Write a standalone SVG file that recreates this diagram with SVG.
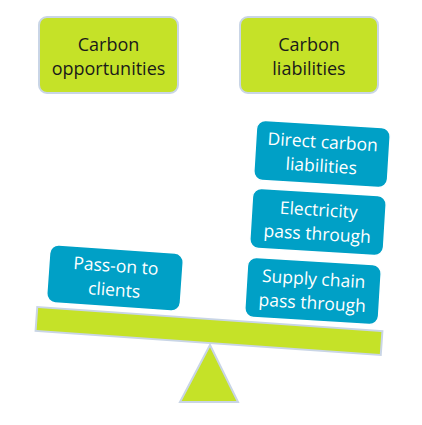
<svg xmlns="http://www.w3.org/2000/svg" width="422" height="425" viewBox="0 0 422 425">
<style>
.g{fill:#c5e228;stroke:#c9d5e6;stroke-width:2}
.b{fill:#00a0c6;stroke:#ffffff;stroke-width:1.5}
.tg{font-family:"Open Sans","Liberation Sans",sans-serif;font-size:18px;fill:#1a1a1a;text-anchor:middle}
.tb{font-family:"Open Sans","Liberation Sans",sans-serif;font-size:17.5px;fill:#ffffff;text-anchor:middle}
</style>
<rect width="422" height="425" fill="#ffffff"/>
<g id="carbon-opportunities">
<rect class="g" x="39" y="17" width="139" height="76" rx="8"/>
<text class="tg" x="108.5" y="51">Carbon</text>
<text class="tg" x="108.5" y="75">opportunities</text>
</g>
<g id="carbon-liabilities">
<rect class="g" x="240" y="17" width="138" height="76" rx="8"/>
<text class="tg" x="309" y="51">Carbon</text>
<text class="tg" x="309" y="75">liabilities</text>
</g>
<g id="beam">
<rect class="g" x="-173" y="-12" width="346" height="24" transform="translate(209,331) rotate(4)"/>
</g>
<g id="fulcrum">
<polygon class="g" points="210,345 180,402 238,402"/>
</g>
<g id="direct-carbon-liabilities" transform="translate(322,154) rotate(3.5)">
<rect class="b" x="-67" y="-30" width="134" height="60" rx="9"/>
<text class="tb" x="0" y="-6">Direct carbon</text>
<text class="tb" x="0" y="18">liabilities</text>
</g>
<g id="electricity-pass-through" transform="translate(318,222) rotate(3.5)">
<rect class="b" x="-67" y="-30" width="134" height="60" rx="9"/>
<text class="tb" x="0" y="-6">Electricity</text>
<text class="tb" x="0" y="18">pass through</text>
</g>
<g id="supply-chain-pass-through" transform="translate(313,291) rotate(3.5)">
<rect class="b" x="-67" y="-30" width="134" height="60" rx="9"/>
<text class="tb" x="0" y="-6">Supply chain</text>
<text class="tb" x="0" y="18">pass through</text>
</g>
<g id="pass-on-to-clients" transform="translate(115,278) rotate(4)">
<rect class="b" x="-67" y="-29" width="134" height="58" rx="9"/>
<text class="tb" x="0" y="-6">Pass-on to</text>
<text class="tb" x="0" y="18">clients</text>
</g>
<g id="connectors"></g>
</svg>
